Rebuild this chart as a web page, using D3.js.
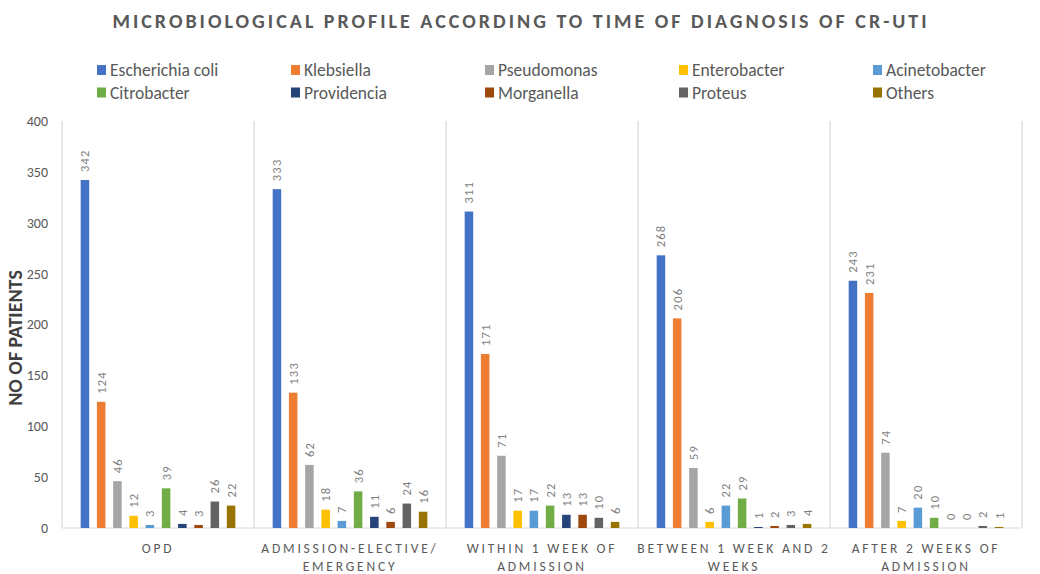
<!DOCTYPE html>
<html>
<head>
<meta charset="utf-8">
<script src="https://cdn.jsdelivr.net/npm/d3@7"></script>
<style>
  html, body { margin: 0; padding: 0; background: #fff; }
  svg { display: block; font-family: Carlito, Lato, "Open Sans", sans-serif; }
</style>
</head>
<body>
<svg id="chart" width="1040" height="574"></svg>
<script>
const categories = [
  ["OPD"],
  ["ADMISSION-ELECTIVE/", "EMERGENCY"],
  ["WITHIN 1 WEEK OF", "ADMISSION"],
  ["BETWEEN 1 WEEK AND 2", "WEEKS"],
  ["AFTER 2 WEEKS OF", "ADMISSION"]
];
const seriesNames = ["Escherichia coli", "Klebsiella", "Pseudomonas", "Enterobacter", "Acinetobacter",
                     "Citrobacter", "Providencia", "Morganella", "Proteus", "Others"];
const ecoli        = [342, 333, 311, 268, 243];
const klebsiella   = [124, 133, 171, 206, 231];
const pseudomonas  = [46, 62, 71, 59, 74];
const enterobacter = [12, 18, 17, 6, 7];
const acinetobacter= [3, 7, 17, 22, 20];
const citrobacter  = [39, 36, 22, 29, 10];
const providencia  = [4, 11, 13, 1, 0];
const morganella   = [3, 6, 13, 2, 0];
const proteus      = [26, 24, 10, 3, 2];
const others       = [22, 16, 6, 4, 1];
const yTicks = [0, 50, 100, 150, 200, 250, 300, 350, 400];
const colors = ["#4472C4", "#ED7D31", "#A5A5A5", "#FFC000", "#5B9BD5",
                "#70AD47", "#264478", "#9E480E", "#636363", "#997300"];

const seriesValues = [ecoli, klebsiella, pseudomonas, enterobacter, acinetobacter,
                      citrobacter, providencia, morganella, proteus, others];

const svg = d3.select("#chart");
const pLeft = 62, pRight = 1022, pTop = 121, pBottom = 528;

const x0 = d3.scaleBand().domain(d3.range(categories.length)).range([pLeft, pRight]).paddingInner(0).paddingOuter(0);
const x1 = d3.scaleBand().domain(d3.range(seriesNames.length)).range([0, x0.bandwidth()])
  .paddingInner(0.475).paddingOuter(1.15);
const y = d3.scaleLinear().domain([0, 400]).range([pBottom, pTop]);
const color = d3.scaleOrdinal().domain(d3.range(seriesNames.length)).range(colors);

// Title
svg.append("text")
  .attr("x", 521).attr("y", 28)
  .attr("text-anchor", "middle")
  .attr("font-size", 20).attr("font-weight", "bold")
  .attr("letter-spacing", 3)
  .attr("fill", "#595959")
  .text("MICROBIOLOGICAL PROFILE ACCORDING TO TIME OF DIAGNOSIS OF CR-UTI");

// Legend
const legend = svg.append("g");
seriesNames.forEach((name, i) => {
  const col = i % 5, row = Math.floor(i / 5);
  const gx = 97 + col * 194, gy = 70 + row * 22.5;
  legend.append("rect").attr("x", gx).attr("y", gy - 5).attr("width", 9).attr("height", 10)
    .attr("fill", color(i));
  legend.append("text").attr("x", gx + 13).attr("y", gy + 6)
    .attr("font-size", 17.5).attr("fill", "#595959").text(name);
});

// Category separators & frame
const sepX = d3.range(categories.length + 1).map(i => i < categories.length ? x0(i) : pRight);
svg.append("g").selectAll("line").data(sepX).join("line")
  .attr("x1", d => d).attr("x2", d => d)
  .attr("y1", pTop).attr("y2", pBottom)
  .attr("stroke", "#D9D9D9").attr("stroke-width", 1.2);

// Y axis
const yAxis = svg.append("g").attr("transform", `translate(${pLeft},0)`)
  .call(d3.axisLeft(y).tickValues(yTicks).tickSize(0).tickPadding(14));
yAxis.select(".domain").remove();
yAxis.selectAll("text").attr("font-size", 14).attr("fill", "#595959")
  .attr("font-family", "Carlito, Lato, 'Open Sans', sans-serif");

// X axis line
svg.append("line").attr("x1", pLeft).attr("x2", pRight).attr("y1", pBottom).attr("y2", pBottom)
  .attr("stroke", "#D9D9D9").attr("stroke-width", 1.2);

// Y title
svg.append("text")
  .attr("transform", `translate(22,338) rotate(-90)`)
  .attr("text-anchor", "middle")
  .attr("font-size", 20).attr("font-weight", "bold").attr("fill", "#404040")
  .text("NO OF PATIENTS");

// Bars
const groups = svg.append("g").selectAll("g").data(categories).join("g")
  .attr("transform", (d, ci) => `translate(${x0(ci)},0)`);

groups.each(function(cat, ci) {
  const g = d3.select(this);
  const vals = seriesValues.map((arr, si) => ({si, v: arr[ci]}));
  g.selectAll("rect").data(vals).join("rect")
    .attr("x", d => x1(d.si)).attr("width", x1.bandwidth())
    .attr("y", d => y(d.v)).attr("height", d => y(0) - y(d.v))
    .attr("fill", d => color(d.si));
  g.selectAll("text.lbl").data(vals).join("text").attr("class", "lbl")
    .attr("transform", d => `translate(${x1(d.si) + x1.bandwidth() / 2 + 4.5},${y(d.v) - 8}) rotate(-90)`)
    .attr("font-size", 12.5).attr("letter-spacing", 1.2).attr("fill", "#7F7F7F")
    .text(d => d.v);
});

// X labels
svg.append("g").selectAll("text").data(categories).join("text")
  .attr("x", (d, i) => x0(i) + x0.bandwidth() / 2)
  .attr("y", 553)
  .attr("text-anchor", "middle")
  .attr("font-size", 13.5).attr("letter-spacing", 2.8).attr("fill", "#595959")
  .each(function(lines) {
    const t = d3.select(this);
    lines.forEach((ln, k) => {
      t.append("tspan").attr("x", t.attr("x")).attr("dy", k === 0 ? 0 : 18).text(ln);
    });
  });
</script>
</body>
</html>
